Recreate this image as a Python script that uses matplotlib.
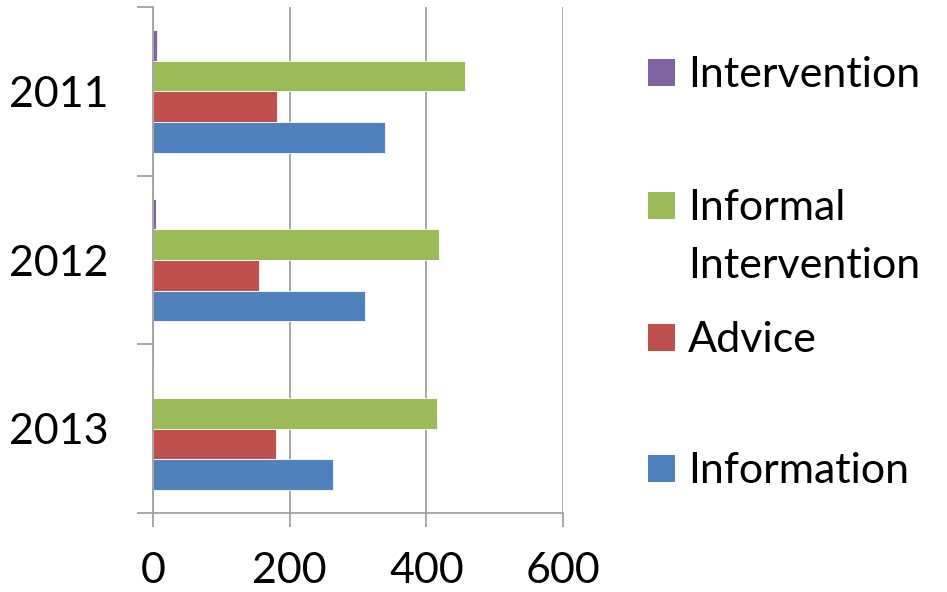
import numpy as np
import matplotlib.pyplot as plt
from matplotlib.patches import Rectangle

years = ["2011", "2012", "2013"]
series = ["Intervention", "Informal\nIntervention", "Advice", "Information"]
intervention = [6, 4, 0]
informal = [456, 418, 416]
advice = [182, 155, 180]
information = [340, 310, 264]
colors = ["#8064A2", "#9BBB59", "#C0504D", "#4F81BD"]

plt.rcParams['font.family'] = ['Lato', 'DejaVu Sans']
W, H = 947, 592
fs = 31
fig = plt.figure(figsize=(W / 100, H / 100), dpi=100)
ax = fig.add_axes([153 / W, 1 - 513 / H, (563 - 153) / W, (513 - 7) / H])

y = np.arange(len(years))
h = 0.182
values = [intervention, informal, advice, information]
offsets = [-1.5 * h, -0.5 * h, 0.5 * h, 1.5 * h]
for vals, off, c in zip(values, offsets, colors):
    ax.barh(y + off, vals, height=h, color=c, edgecolor="white", linewidth=0.6, zorder=3)

grey = "#A0A0A0"
ax.set_xlim(0, 600)
ax.set_ylim(2.5, -0.5)
ax.set_xticks([0, 200, 400, 600])
ax.set_yticks(y)
ax.set_yticklabels(years)
ax.set_yticks([-0.5, 0.5, 1.5, 2.5], minor=True)
ax.tick_params(axis='y', which='major', length=0, pad=32, labelsize=fs)
ax.tick_params(axis='y', which='minor', length=11.5, color=grey, width=1.3)
ax.tick_params(axis='x', length=10, color=grey, width=1.3, pad=18, labelsize=fs)
ax.grid(axis='x', color=grey, linewidth=1.3, zorder=0)
for s in ["top", "right"]:
    ax.spines[s].set_visible(False)
for s in ["left", "bottom"]:
    ax.spines[s].set_color(grey)
    ax.spines[s].set_linewidth(1.3)
    ax.spines[s].set_zorder(5)

# legend, squares aligned with first text line
legend_y = [72, 205, 337, 468]
for label, c, ly in zip(series, colors, legend_y):
    fig.patches.append(Rectangle((648 / W, 1 - (ly + 13.5) / H), 27 / W, 27 / H,
                                 transform=fig.transFigure, facecolor=c, edgecolor="none"))
    first_baseline = ly + 15
    fig.text(688 / W, 1 - first_baseline / H, label.split("\n")[0], fontsize=fs,
             va="baseline", ha="left")
    if "\n" in label:
        fig.text(688 / W, 1 - (first_baseline + 58) / H, label.split("\n")[1],
                 fontsize=fs, va="baseline", ha="left")

fig.savefig("out.png", dpi=100)
